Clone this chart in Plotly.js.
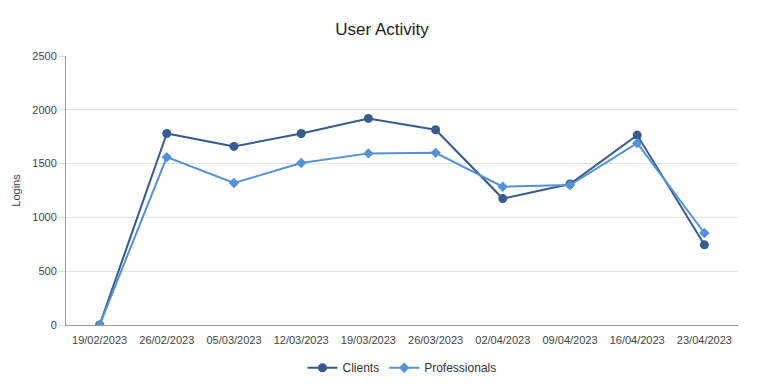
<!DOCTYPE html>
<html>
<head>
<meta charset="utf-8">
<script src="https://cdn.plot.ly/plotly-3.0.1.min.js"></script>
<style>html,body{margin:0;padding:0;background:#fff;}#chart{width:764px;height:391px;}</style>
</head>
<body>
<div id="chart"></div>
<script>
var dates = ["19/02/2023","26/02/2023","05/03/2023","12/03/2023","19/03/2023","26/03/2023","02/04/2023","09/04/2023","16/04/2023","23/04/2023"];
var clients = [0, 1780, 1660, 1780, 1920, 1815, 1175, 1310, 1765, 745];
var professionals = [0, 1560, 1320, 1505, 1595, 1600, 1285, 1300, 1690, 855];
var yTicks = [0, 500, 1000, 1500, 2000, 2500];

var traces = [
  {x: dates, y: clients, name: "Clients", type: "scatter", mode: "lines+markers",
   line: {color: "#365b8c", width: 2}, marker: {symbol: "circle", size: 9, color: "#365b8c"}},
  {x: dates, y: professionals, name: "Professionals", type: "scatter", mode: "lines+markers",
   line: {color: "#5592d6", width: 2}, marker: {symbol: "diamond", size: 8, color: "#5592d6"}}
];

var layout = {
  width: 764, height: 391,
  margin: {l: 66, r: 26, t: 56, b: 66, autoexpand: false},
  paper_bgcolor: "#fff", plot_bgcolor: "#fff",
  font: {family: "Liberation Sans, Arial, sans-serif", color: "#444", size: 11},
  title: {text: "User Activity", x: 0.5, xanchor: "center", y: 0.925, yanchor: "middle",
          font: {size: 17, color: "#222", family: "Liberation Sans, Arial, sans-serif"}},
  xaxis: {type: "category", range: [-0.5, 9.5], showgrid: false, showline: true,
          linecolor: "#999", linewidth: 1, ticks: "", tickfont: {size: 11, color: "#444"},
          ticklabelstandoff: 5, zeroline: false, fixedrange: true},
  yaxis: {range: [0, 2500], tickvals: yTicks, ticktext: yTicks.map(String),
          showgrid: true, gridcolor: "#e3e3e3", gridwidth: 1, showline: true,
          linecolor: "#999", linewidth: 1, ticks: "outside", ticklen: 6, tickcolor: "#ddd",
          zeroline: false, tickfont: {size: 11, color: "#444"},
          title: {text: "Logins", standoff: 9, font: {size: 11, color: "#444"}}},
  showlegend: true,
  legend: {orientation: "h", x: 0.5, xanchor: "center", y: -0.105, yanchor: "top",
           font: {size: 12, color: "#333"}, itemwidth: 30},
  hovermode: false
};

Plotly.newPlot("chart", traces, layout, {displayModeBar: false, staticPlot: true});
</script>
</body>
</html>
